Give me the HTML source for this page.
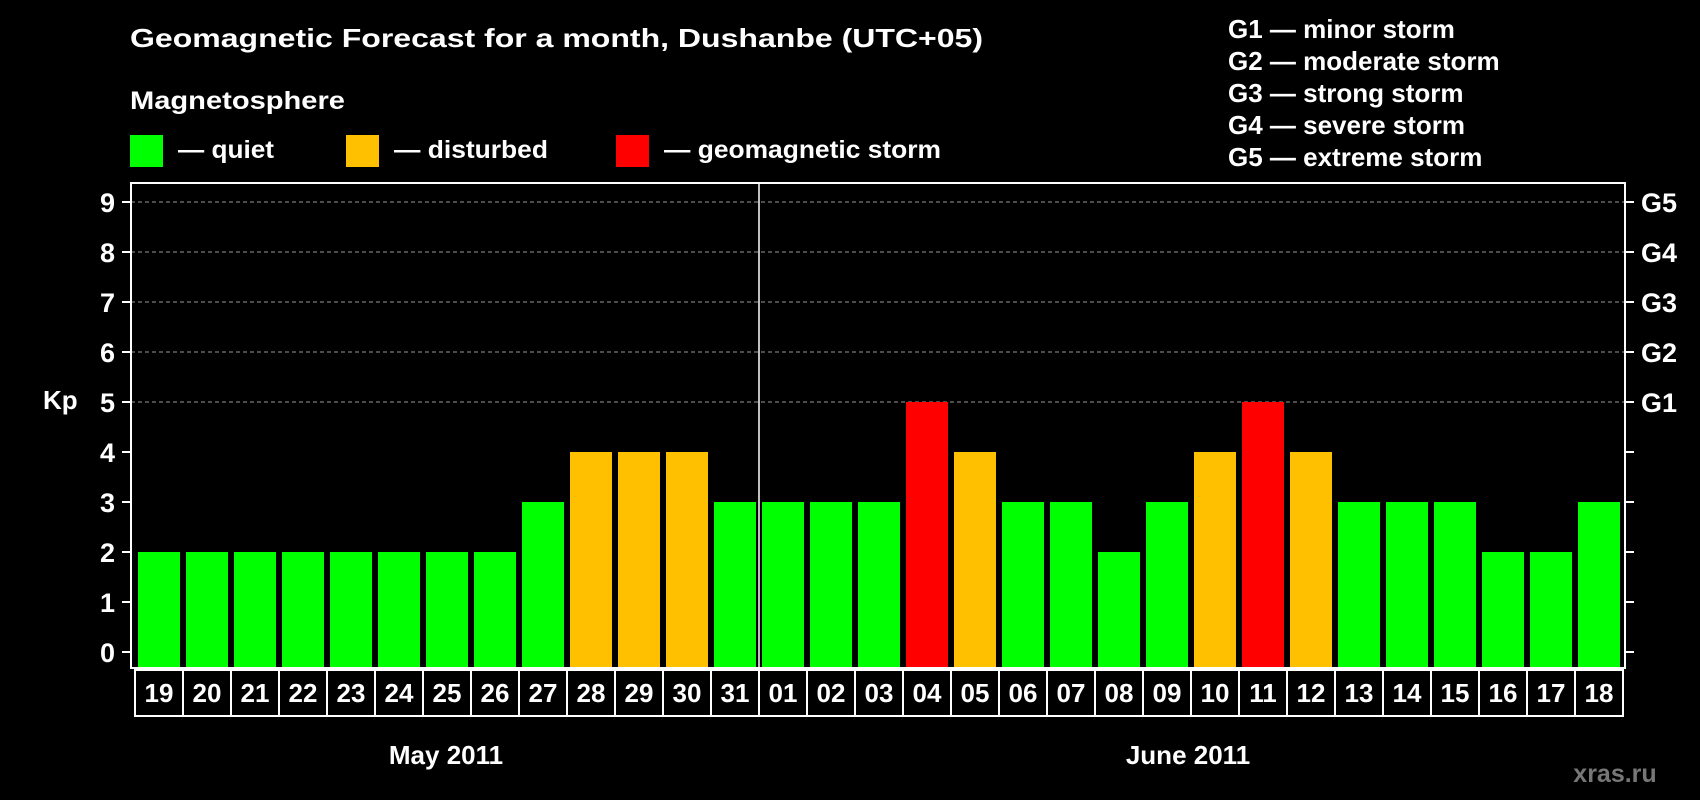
<!DOCTYPE html>
<html><head><meta charset="utf-8"><style>
html,body{margin:0;padding:0;background:#000;}
svg{display:block;font-family:"Liberation Sans",Arial,sans-serif;font-weight:bold;}
</style></head><body>
<svg id="chart" width="1700" height="800" viewBox="0 0 1700 800">
<rect x="0" y="0" width="1700" height="800" fill="#000"/>
<text x="130" y="47" fill="#fff" font-size="26" textLength="853" lengthAdjust="spacingAndGlyphs">Geomagnetic Forecast for a month, Dushanbe (UTC+05)</text>
<text x="130" y="109" fill="#fff" font-size="25" textLength="215" lengthAdjust="spacingAndGlyphs">Magnetosphere</text>
<g><rect x="130" y="135" width="33" height="32" fill="#00ff00"/><text x="178" y="158" fill="#fff" font-size="25" textLength="96" lengthAdjust="spacingAndGlyphs">— quiet</text></g>
<g><rect x="346" y="135" width="33" height="32" fill="#ffc000"/><text x="394" y="158" fill="#fff" font-size="25" textLength="154" lengthAdjust="spacingAndGlyphs">— disturbed</text></g>
<g><rect x="616" y="135" width="33" height="32" fill="#ff0000"/><text x="664" y="158" fill="#fff" font-size="25" textLength="277" lengthAdjust="spacingAndGlyphs">— geomagnetic storm</text></g>
<g fill="#fff" font-size="26">
<text x="1228" y="38">G1 — minor storm</text>
<text x="1228" y="70">G2 — moderate storm</text>
<text x="1228" y="102">G3 — strong storm</text>
<text x="1228" y="134">G4 — severe storm</text>
<text x="1228" y="166">G5 — extreme storm</text>
</g>
<text x="43" y="409" fill="#fff" font-size="26">Kp</text>
<g id="grid"></g>
<g id="bars"></g>
<g id="axes"></g>
<text x="446" y="764" fill="#fff" font-size="26" text-anchor="middle">May 2011</text>
<text x="1188" y="764" fill="#fff" font-size="26" text-anchor="middle">June 2011</text>
<text x="1615" y="782" fill="#777" font-size="25" text-anchor="middle">xras.ru</text>
</svg>
<script>
const days = ["19","20","21","22","23","24","25","26","27","28","29","30","31","01","02","03","04","05","06","07","08","09","10","11","12","13","14","15","16","17","18"];
const kpValues = [2,2,2,2,2,2,2,2,3,4,4,4,3,3,3,3,5,4,3,3,2,3,4,5,4,3,3,3,2,2,3];
const yTicks = [0,1,2,3,4,5,6,7,8,9];
const gLabels = ["G1","G2","G3","G4","G5"];
const monthSplit = 13;

const NS = "http://www.w3.org/2000/svg";
const plotL = 131, plotR = 1625, plotT = 183, plotB = 668;
const y0 = 652, unit = 50;
function yScale(v){ return y0 - v*unit; }
function xBand(i){ return 138 + i*48; }
const bw = 42;
function mk(tag, attrs, parent){ const e=document.createElementNS(NS,tag); for(const k in attrs) e.setAttribute(k,attrs[k]); parent.appendChild(e); return e; }
function color(v){ return v>=5 ? "#ff0000" : (v>=4 ? "#ffc000" : "#00ff00"); }

const grid = document.getElementById("grid");
const bars = document.getElementById("bars");
const axes = document.getElementById("axes");

yTicks.forEach(t=>{
  const y = yScale(t);
  if(t>=5){
    const g = mk("line",{x1:plotL,x2:plotR,y1:y,y2:y,stroke:"#999","stroke-width":1,"stroke-dasharray":"4,3"},grid);
    
    
  }
  const tl = mk("line",{x1:122,x2:plotL,y1:y,y2:y,stroke:"#fff","stroke-width":2},axes);
  
  
  const tr = mk("line",{x1:plotR,x2:1634,y1:y,y2:y,stroke:"#fff","stroke-width":2},axes);
  
  
  const lb = mk("text",{x:115,y:y+10,fill:"#fff","font-size":27,"text-anchor":"end"},axes);
  lb.textContent = t;
  
  
});
gLabels.forEach((g,i)=>{
  const t = mk("text",{x:1641,y:yScale(5+i)+10,fill:"#fff","font-size":27},axes);
  t.textContent = g;
  
  
});

kpValues.forEach((v,i)=>{
  const r = mk("rect",{x:xBand(i),y:yScale(v),width:bw,height:plotB-yScale(v),fill:color(v)},bars);
  
  
});

const frame = mk("rect",{x:plotL,y:plotT,width:plotR-plotL,height:plotB-plotT,fill:"none",stroke:"#fff","stroke-width":2},axes);


const sx = (xBand(monthSplit-1)+bw + xBand(monthSplit))/2;
const sep = mk("line",{x1:sx,x2:sx,y1:plotT,y2:plotB,stroke:"#fff","stroke-width":1.5},axes);



days.forEach((d,i)=>{
  const bx = xBand(i)-3;
  const c = mk("rect",{x:bx,y:670,width:48,height:46,fill:"#000",stroke:"#fff","stroke-width":2},axes);
  
  
  const t = mk("text",{x:xBand(i)+bw/2,y:702,fill:"#fff","font-size":26,"text-anchor":"middle"},axes);
  t.textContent = d;
  
  
});
</script>
</body></html>
